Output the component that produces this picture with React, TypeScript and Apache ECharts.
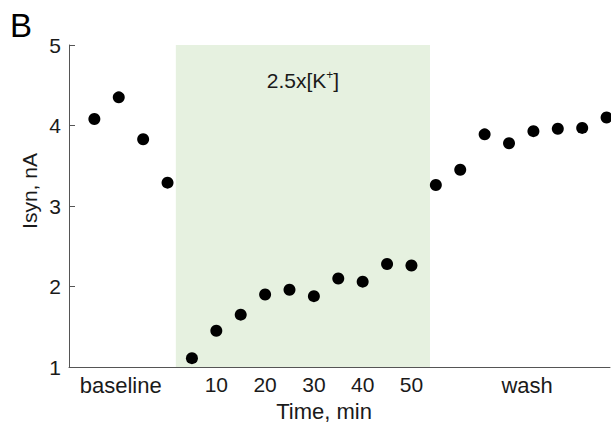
import React, { useEffect, useRef } from "react";
import * as echarts from "echarts";

const baselineTimes = [-15, -10, -5, 0];
const baselineIsyn = [4.08, 4.35, 3.83, 3.29];
const kTimes = [5, 10, 15, 20, 25, 30, 35, 40, 45, 50];
const kIsyn = [1.11, 1.45, 1.65, 1.9, 1.96, 1.88, 2.1, 2.06, 2.28, 2.26];
const washTimes = [55, 60, 65, 70, 75, 80, 85, 90];
const washIsyn = [3.26, 3.45, 3.89, 3.78, 3.93, 3.96, 3.97, 4.1];
const xTickValues = [5, 10, 15, 20, 25, 30, 35, 40, 45, 50];
const xLabelValues = [-9.6, 10, 20, 30, 40, 50, 73.7];
const phaseLabels: Record<string, string> = { "-9.6": "baseline", "73.7": "wash" };
const kRange = [1.7, 53.8];
const yTicks = [1, 2, 3, 4, 5];

const FONT = "'Liberation Sans', Arial, sans-serif";

export default function App() {
  const ref = useRef<HTMLDivElement>(null);
  useEffect(() => {
    if (!ref.current) return;
    const chart = echarts.init(ref.current, null, { renderer: "svg" });
    const pts = [
      ...baselineTimes.map((t, i) => [t, baselineIsyn[i]]),
      ...kTimes.map((t, i) => [t, kIsyn[i]]),
      ...washTimes.map((t, i) => [t, washIsyn[i]]),
    ];
    chart.setOption({
      animation: false,
      backgroundColor: "#fff",
      textStyle: { fontFamily: FONT },
      grid: { left: 69, right: 1, top: 45, bottom: 58 },
      xAxis: {
        type: "value",
        min: -20.2,
        max: 90.7,
        splitLine: { show: false },
        axisLine: { show: true, onZero: false, lineStyle: { color: "#555", width: 1 } },
        axisTick: {
          show: true,
          inside: true,
          length: 6,
          customValues: xTickValues,
          lineStyle: { color: "#555" },
        },
        axisLabel: {
          customValues: xLabelValues,
          margin: 7,
          fontSize: 21,
          color: "#1a1a1a",
          fontFamily: FONT,
          formatter: (v: number) =>
            phaseLabels[String(v)] ? `{big|${phaseLabels[String(v)]}}` : String(v),
          rich: {
            big: { fontSize: 22, color: "#1a1a1a", fontFamily: FONT },
          },
        },
      },
      yAxis: {
        type: "value",
        min: yTicks[0],
        max: yTicks[yTicks.length - 1],
        interval: 1,
        splitLine: { show: false },
        axisLine: { show: true, onZero: false, lineStyle: { color: "#555", width: 1 } },
        axisTick: { show: true, inside: true, length: 6, lineStyle: { color: "#555" } },
        axisLabel: { margin: 8, fontSize: 21, color: "#1a1a1a", fontFamily: FONT },
      },
      graphic: [
        {
          type: "text",
          left: 10,
          top: 9,
          style: { text: "B", fontSize: 33, fill: "#000", fontFamily: FONT },
        },
        {
          type: "text",
          x: 29,
          y: 191,
          rotation: Math.PI / 2,
          style: {
            text: "Isyn, nA",
            fontSize: 21,
            fill: "#1a1a1a",
            fontFamily: FONT,
            align: "center",
            verticalAlign: "middle",
          },
        },
        {
          type: "text",
          x: 324,
          y: 411,
          style: {
            text: "Time, min",
            fontSize: 22,
            fill: "#1a1a1a",
            fontFamily: FONT,
            align: "center",
            verticalAlign: "middle",
          },
        },
      ],
      series: [
        {
          type: "scatter",
          data: pts,
          symbolSize: 12,
          clip: false,
          itemStyle: { color: "#000", opacity: 1 },
          markArea: {
            silent: true,
            itemStyle: { color: "#e6f1e0" },
            label: {
              show: true,
              position: "insideTop",
              distance: 24,
              formatter: "2.5x[K{sup|+}]",
              fontSize: 21,
              color: "#1a1a1a",
              fontFamily: FONT,
              rich: {
                sup: { fontSize: 12, verticalAlign: "top", padding: [0, 0, 10, 0], color: "#1a1a1a", fontFamily: FONT },
              },
            },
            data: [[{ coord: [kRange[0], 5.04] }, { coord: [kRange[1], 1] }]],
          },
        },
      ],
    });
    return () => chart.dispose();
  }, []);
  return (
    <div
      ref={ref}
      style={{ position: "fixed", left: 0, top: 0, width: 611, height: 425 }}
    />
  );
}
